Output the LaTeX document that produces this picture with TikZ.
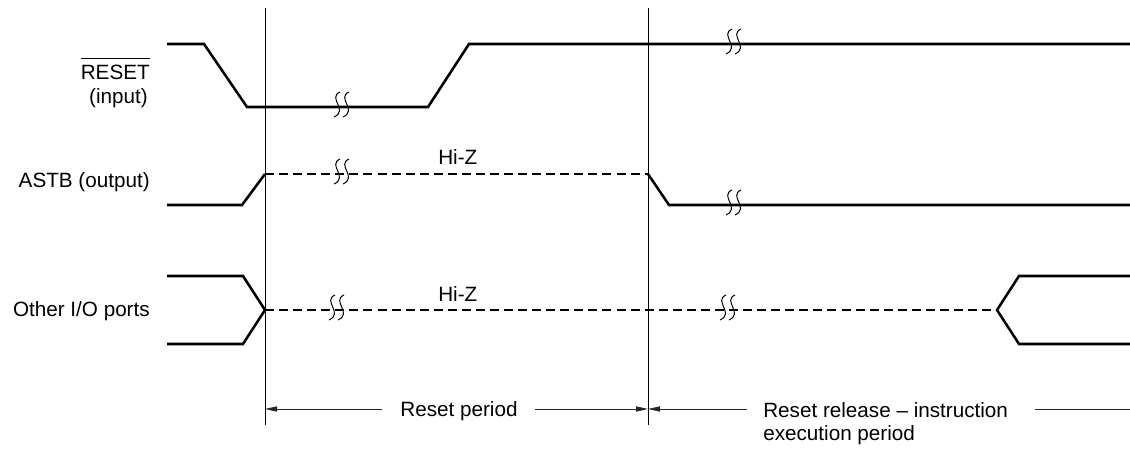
\documentclass[tikz,border=0pt]{standalone}
\usepackage{fontspec}
\setmainfont{Liberation Sans}
\usetikzlibrary{arrows.meta}

\tikzset{
  sig/.style={line width=1.8pt},
  hiz/.style={line width=1.8pt, dash pattern=on 6.4pt off 3.6pt},
  guide/.style={line width=0.7pt},
  dim/.style={line width=0.6pt, black!85},
  tip/.style={-{Triangle[length=0.3cm,width=0.13cm]}},
  lbl/.style={font=\fontsize{14.7}{16.3}\selectfont, inner sep=0pt},
  brk/.pic={
    \draw[line width=0.7pt] (-1,-15) .. controls (-14,-9) and (8,3) .. (-7,10);
    \draw[line width=0.7pt] (8,-15) .. controls (-5,-9) and (17,3) .. (2,10);
  }
}

\begin{document}
\begin{tikzpicture}[x=0.025cm, y=-0.025cm]
\useasboundingbox (0,0) rectangle (1130,451);

% labels
\node[lbl, anchor=base east] (rst) at (150,80) {RESET};
\node[lbl, anchor=base east] (rstin) at (148,104) {(input)};
\node[lbl, anchor=base east] (astb) at (150,188) {ASTB (output)};
\node[lbl, anchor=base east] (io) at (150,317) {Other I/O ports};
\node[lbl, anchor=base west] (hiz1) at (438,165) {Hi-Z};
\node[lbl, anchor=base west] (hiz2) at (438,302) {Hi-Z};
\node[lbl, anchor=base] (per) at (459,416) {Reset period};
\node[lbl, anchor=base west, align=left] (rel) at (763,440) {Reset release -- instruction\\execution period};

% overbar of RESET
\draw[guide] ([yshift=0.16cm]rst.north west) -- ([yshift=0.16cm]rst.north east);

% guide lines
\coordinate (g0) at (265,8);
\coordinate (g0b) at (265,425);
\coordinate (g1) at (648,8);
\coordinate (g1b) at (648,425);
\draw[guide] (g0)--(g0b);
\draw[guide] (g1)--(g1b);

% RESET
\draw[sig] (167,44)--(204,44)--(247,107)--(428,107)--(469,44)--(1130,44);

% ASTB
\draw[sig] (167,205)--(242,205)--(265,174);
\draw[hiz] (265,174)--(648,174);
\draw[sig] (648,174)--(669,205)--(1130,205);

% other I/O
\draw[sig] (167,276)--(243,276)--(265,310)--(243,344)--(167,344);
\draw[hiz] (265,310)--(997,310);
\draw[sig] (1130,276)--(1019,276)--(997,310)--(1019,344)--(1130,344);

% breaks
\pic at (341,107) {brk};
\pic at (733,44) {brk};
\pic at (341,174) {brk};
\pic at (733,205) {brk};
\pic at (336,310) {brk};
\pic at (727,310) {brk};

% periods
\coordinate (d0) at (265,409);
\coordinate (d1) at (648,409);
\coordinate (da) at (382,409);
\coordinate (db) at (535,409);
\coordinate (dc) at (747,409);
\coordinate (dd) at (1035,409);
\coordinate (de) at (1130,409);
\draw[dim, tip] (da)--(d0);
\draw[dim, tip] (db)--(d1);
\draw[dim, tip] (dc)--(d1);
\draw[dim] (dd)--(de);
\end{tikzpicture}
\end{document}
